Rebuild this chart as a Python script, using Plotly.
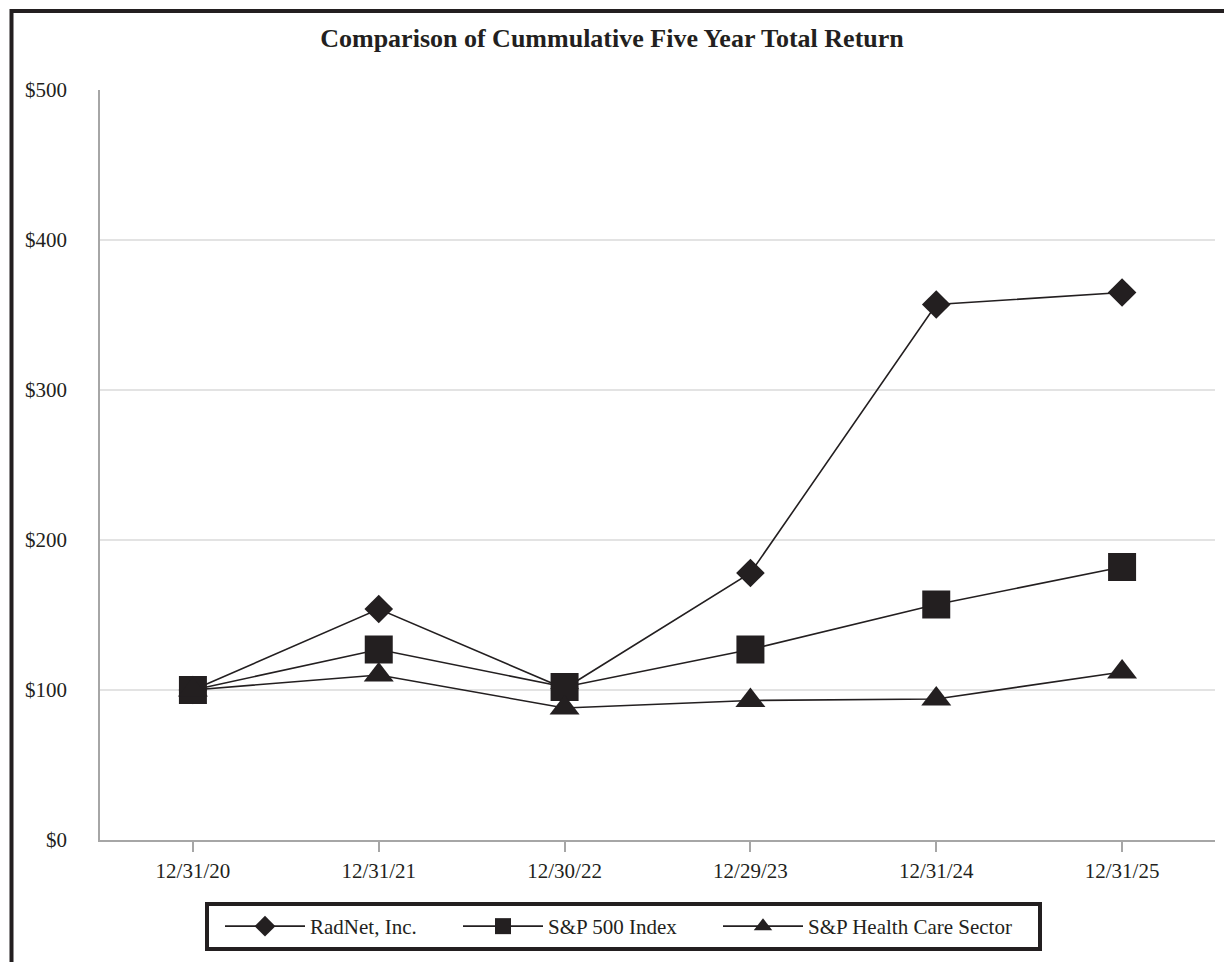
import plotly.graph_objects as go

# ---- data ----
dates = ["12/31/20", "12/31/21", "12/30/22", "12/29/23", "12/31/24", "12/31/25"]
radnet = [100, 154, 101, 178, 357, 365]
sp500 = [100, 127, 102, 127, 157, 182]
sp_health = [100, 110, 88, 93, 94, 112]

series_names = ["RadNet, Inc.", "S&P 500 Index", "S&P Health Care Sector"]
y_ticks = [0, 100, 200, 300, 400, 500]
y_tick_labels = ["$0", "$100", "$200", "$300", "$400", "$500"]

INK = "#231f20"
FONT = "Liberation Serif, Times New Roman, serif"

W, H = 1224, 962
L, R, T, B = 100, 9, 90, 122
pw, ph = W - L - R, H - T - B


def px_x(p):
    return (p - L) / pw


def px_y(p):
    return (H - B - p) / ph


fig = go.Figure()
specs = [
    (radnet, series_names[0], "diamond", 22, 132),
    (sp500, series_names[1], "square", 28, 154),
    (sp_health, series_names[2], "triangle-up", 26, 225),
]
for vals, name, sym, size, lw in specs:
    fig.add_trace(go.Scatter(
        x=dates, y=vals, name=name, mode="lines+markers",
        line=dict(color=INK, width=1.6),
        marker=dict(symbol=sym, size=size, color=INK, line=dict(width=0)),
        legendwidth=lw,
    ))

fig.update_layout(
    width=W, height=H,
    margin=dict(l=L, r=R, t=T, b=B, pad=0),
    paper_bgcolor="white", plot_bgcolor="white",
    font=dict(family=FONT, size=21, color=INK),
    title=dict(
        text="<b>Comparison of Cummulative Five Year Total Return</b>",
        x=0.5, xref="container", xanchor="center",
        y=1 - 38 / H, yref="container", yanchor="middle",
        font=dict(family=FONT, size=26, color=INK),
    ),
    xaxis=dict(
        type="category", range=[-0.5, 5.5],
        showgrid=False, showline=True, linecolor="#a6a6a6", linewidth=1.5,
        ticks="outside", ticklen=10, tickcolor="#a6a6a6", tickwidth=1.5,
        ticklabelstandoff=1,
        tickfont=dict(family=FONT, size=21, color=INK),
    ),
    yaxis=dict(
        range=[0, 500], tickvals=y_ticks, ticktext=y_tick_labels,
        showgrid=True, gridcolor="#e3e3e3", gridwidth=1.5,
        showline=True, linecolor="#a6a6a6", linewidth=1.5,
        ticks="", ticklabelstandoff=27, zeroline=False,
        tickfont=dict(family=FONT, size=21, color=INK),
    ),
    legend=dict(
        orientation="h",
        x=px_x(205), xanchor="left",
        y=px_y(902), yanchor="top",
        bordercolor=INK, borderwidth=4, bgcolor="white",
        font=dict(family=FONT, size=21, color=INK),
        itemwidth=80, indentation=11,
        traceorder="normal",
    ),
    showlegend=True,
    shapes=[dict(
        type="rect", xref="paper", yref="paper",
        x0=px_x(11.5), x1=px_x(1240), y0=px_y(11), y1=px_y(990),
        line=dict(color=INK, width=4), fillcolor="rgba(0,0,0,0)", layer="above",
    )],
)

fig.write_html("out.html")
